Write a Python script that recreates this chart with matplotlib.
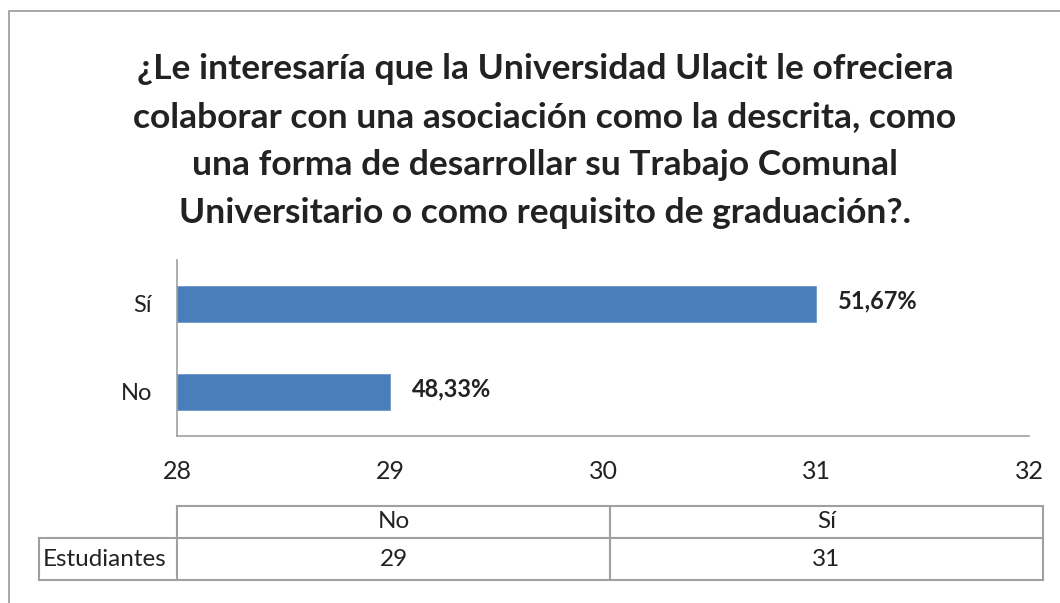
import matplotlib.pyplot as plt
import matplotlib.patches as mpatches

plt.rcParams['font.family'] = ['Lato', 'DejaVu Sans']

# Data
categorias = ["No", "Sí"]
estudiantes = [29, 31]
porcentajes = ["48,33%", "51,67%"]
fila_tabla = "Estudiantes"
titulo = ("¿Le interesaría que la Universidad Ulacit le ofreciera\n"
          "colaborar con una asociación como la descrita, como\n"
          "una forma de desarrollar su Trabajo Comunal\n"
          "Universitario o como requisito de graduación?.")

W, H = 1060, 603
fig = plt.figure(figsize=(W / 100, H / 100), dpi=100)
gris = "#a0a0a0"
texto = "#222222"

# outer frame (right and bottom edges cut off in the original)
fig.add_artist(mpatches.Rectangle((9 / W, -0.1), 1.2, 1 - 11 / H + 0.1,
                                  transform=fig.transFigure, fill=False,
                                  edgecolor="#9a9a9a", linewidth=1.2))

fig.text(545 / W, 1 - 53 / H, titulo, ha="center", va="top", fontsize=25.5,
         fontweight="bold", color=texto, linespacing=1.62)

# axes in pixels: x 177..1029, y 260..436
ax = fig.add_axes([177 / W, 1 - 436 / H, 852 / W, 176 / H])
ax.barh(range(len(categorias)), estudiantes, height=0.4, left=0,
        color="#4A7EBB", edgecolor="#6f97c9", linewidth=0.6)
ax.set_xlim(28, 32)
ax.set_ylim(-0.5, 1.5)
ax.set_xticks([28, 29, 30, 31, 32])
ax.set_yticks(range(len(categorias)))
ax.set_yticklabels(categorias)
ax.tick_params(axis="both", length=0, labelcolor=texto)
ax.tick_params(axis="x", pad=17, labelsize=18)
ax.tick_params(axis="y", pad=18, labelsize=17)
for s in ["top", "right"]:
    ax.spines[s].set_visible(False)
for s in ["left", "bottom"]:
    ax.spines[s].set_color(gris)
    ax.spines[s].set_linewidth(1.2)

for i, (v, p) in enumerate(zip(estudiantes, porcentajes)):
    ax.annotate(p, (v, i), xytext=(16, 2), textcoords="offset points",
                ha="left", va="center", fontsize=17, fontweight="bold",
                color=texto, annotation_clip=False)

# data table below the axis (pixels)
x0, xm, x1, xl = 177, 610, 1043, 39
y0, y1, y2 = 506, 538, 580


def fx(px):
    return px / W


def fy(py):
    return 1 - py / H


lineas = [
    ((x0, x1), (y0, y0)), ((xl, x1), (y1, y1)), ((xl, x1), (y2, y2)),
    ((x0, x0), (y0, y2)), ((xm, xm), (y0, y2)), ((x1, x1), (y0, y2)),
    ((xl, xl), (y1, y2)),
]
for xs, ys in lineas:
    fig.add_artist(plt.Line2D([fx(x) for x in xs], [fy(y) for y in ys],
                              transform=fig.transFigure, color=gris,
                              linewidth=1.5))

centros = [(x0 + xm) / 2, (xm + x1) / 2]
for c, cat, val in zip(centros, categorias, estudiantes):
    fig.text(fx(c), fy((y0 + y1) / 2), cat, ha="center", va="center",
             fontsize=17.5, color=texto)
    fig.text(fx(c), fy((y1 + y2) / 2), str(val), ha="center", va="center",
             fontsize=17.5, color=texto)
fig.text(fx(xl + 4), fy((y1 + y2) / 2), fila_tabla, ha="left", va="center",
         fontsize=17.5, color=texto)

fig.savefig("out.png", dpi=100)
